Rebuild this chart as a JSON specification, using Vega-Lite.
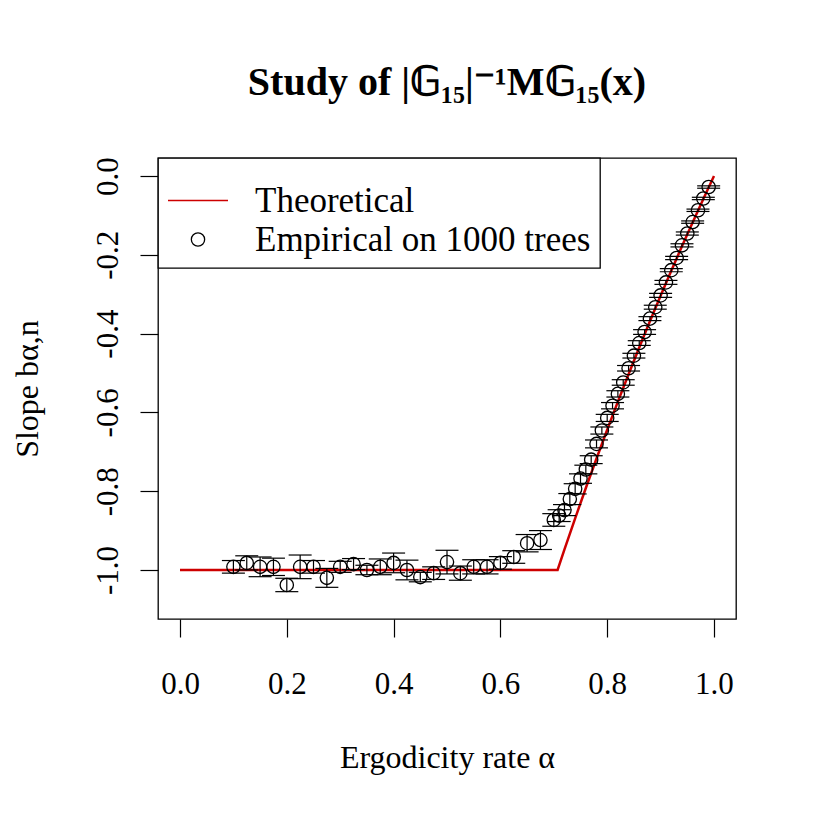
{
  "$schema": "https://vega.github.io/schema/vega-lite/v6.json",
  "width": 578,
  "height": 461,
  "autosize": {"type": "none"},
  "padding": {"left": 158, "top": 158, "right": 81, "bottom": 198},
  "background": "white",
  "config": {
    "view": {"stroke": "black", "strokeWidth": 1.3},
    "font": "Liberation Serif",
    "legend": {
      "orient": "none", "legendX": 0, "legendY": 0,
      "fillColor": "white", "strokeColor": "black", "strokeWidth": 1.3,
      "padding": 9, "labelFont": "Liberation Serif", "labelFontSize": 35,
      "labelColor": "black", "labelOffset": 26, "rowPadding": 0, "clipHeight": 39,
      "titleFontSize": 12, "titlePadding": 2, "titleColor": "white",
      "symbolStrokeWidth": 1.3, "labelLimit": 600
    }
  },
  "title": {
    "text": "Study of |𝔾₁₅|⁻¹M𝔾₁₅(x)",
    "font": "Liberation Serif", "fontSize": 40, "fontWeight": "bold",
    "frame": "group", "anchor": "middle", "baseline": "alphabetic",
    "offset": 22, "color": "black"
  },
  "datasets": {
    "theory": [
      {"a": 0, "b": -1, "series": "Theoretical"},
      {"a": 0.7071, "b": -1, "series": "Theoretical"},
      {"a": 0.72, "b": -0.9479, "series": "Theoretical"},
      {"a": 0.74, "b": -0.8688, "series": "Theoretical"},
      {"a": 0.76, "b": -0.7919, "series": "Theoretical"},
      {"a": 0.78, "b": -0.7169, "series": "Theoretical"},
      {"a": 0.80, "b": -0.6439, "series": "Theoretical"},
      {"a": 0.82, "b": -0.5726, "series": "Theoretical"},
      {"a": 0.84, "b": -0.5031, "series": "Theoretical"},
      {"a": 0.86, "b": -0.4352, "series": "Theoretical"},
      {"a": 0.88, "b": -0.3689, "series": "Theoretical"},
      {"a": 0.90, "b": -0.3040, "series": "Theoretical"},
      {"a": 0.92, "b": -0.2406, "series": "Theoretical"},
      {"a": 0.94, "b": -0.1785, "series": "Theoretical"},
      {"a": 0.96, "b": -0.1178, "series": "Theoretical"},
      {"a": 0.98, "b": -0.0583, "series": "Theoretical"},
      {"a": 1.00, "b": 0, "series": "Theoretical"}
    ],
    "emp": [
      {"a": 0.1, "b": -0.992, "lo": -1.008, "hi": -0.976, "series": "Empirical on 1000 trees"},
      {"a": 0.125, "b": -0.982, "lo": -1.000, "hi": -0.964, "series": "Empirical on 1000 trees"},
      {"a": 0.15, "b": -0.992, "lo": -1.017, "hi": -0.967, "series": "Empirical on 1000 trees"},
      {"a": 0.175, "b": -0.992, "lo": -1.014, "hi": -0.970, "series": "Empirical on 1000 trees"},
      {"a": 0.2, "b": -1.038, "lo": -1.055, "hi": -1.021, "series": "Empirical on 1000 trees"},
      {"a": 0.225, "b": -0.992, "lo": -1.022, "hi": -0.962, "series": "Empirical on 1000 trees"},
      {"a": 0.25, "b": -0.992, "lo": -1.008, "hi": -0.976, "series": "Empirical on 1000 trees"},
      {"a": 0.275, "b": -1.020, "lo": -1.044, "hi": -0.996, "series": "Empirical on 1000 trees"},
      {"a": 0.3, "b": -0.992, "lo": -1.006, "hi": -0.978, "series": "Empirical on 1000 trees"},
      {"a": 0.325, "b": -0.985, "lo": -0.999, "hi": -0.971, "series": "Empirical on 1000 trees"},
      {"a": 0.35, "b": -1.000, "lo": -1.012, "hi": -0.988, "series": "Empirical on 1000 trees"},
      {"a": 0.375, "b": -0.992, "lo": -1.012, "hi": -0.972, "series": "Empirical on 1000 trees"},
      {"a": 0.4, "b": -0.982, "lo": -1.007, "hi": -0.957, "series": "Empirical on 1000 trees"},
      {"a": 0.425, "b": -1.000, "lo": -1.025, "hi": -0.975, "series": "Empirical on 1000 trees"},
      {"a": 0.45, "b": -1.018, "lo": -1.030, "hi": -1.006, "series": "Empirical on 1000 trees"},
      {"a": 0.475, "b": -1.008, "lo": -1.024, "hi": -0.992, "series": "Empirical on 1000 trees"},
      {"a": 0.5, "b": -0.980, "lo": -1.010, "hi": -0.950, "series": "Empirical on 1000 trees"},
      {"a": 0.525, "b": -1.008, "lo": -1.026, "hi": -0.990, "series": "Empirical on 1000 trees"},
      {"a": 0.55, "b": -0.992, "lo": -1.010, "hi": -0.974, "series": "Empirical on 1000 trees"},
      {"a": 0.575, "b": -0.992, "lo": -1.010, "hi": -0.974, "series": "Empirical on 1000 trees"},
      {"a": 0.6, "b": -0.982, "lo": -0.998, "hi": -0.966, "series": "Empirical on 1000 trees"},
      {"a": 0.625, "b": -0.967, "lo": -0.983, "hi": -0.951, "series": "Empirical on 1000 trees"},
      {"a": 0.65, "b": -0.932, "lo": -0.954, "hi": -0.910, "series": "Empirical on 1000 trees"},
      {"a": 0.675, "b": -0.924, "lo": -0.948, "hi": -0.900, "series": "Empirical on 1000 trees"},
      {"a": 0.70, "b": -0.873, "lo": -0.889, "hi": -0.857, "series": "Empirical on 1000 trees"},
      {"a": 0.71, "b": -0.862, "lo": -0.877, "hi": -0.847, "series": "Empirical on 1000 trees"},
      {"a": 0.72, "b": -0.848, "lo": -0.862, "hi": -0.834, "series": "Empirical on 1000 trees"},
      {"a": 0.73, "b": -0.820, "lo": -0.834, "hi": -0.806, "series": "Empirical on 1000 trees"},
      {"a": 0.74, "b": -0.794, "lo": -0.807, "hi": -0.781, "series": "Empirical on 1000 trees"},
      {"a": 0.75, "b": -0.768, "lo": -0.780, "hi": -0.756, "series": "Empirical on 1000 trees"},
      {"a": 0.76, "b": -0.745, "lo": -0.756, "hi": -0.734, "series": "Empirical on 1000 trees"},
      {"a": 0.77, "b": -0.720, "lo": -0.730, "hi": -0.710, "series": "Empirical on 1000 trees"},
      {"a": 0.78, "b": -0.680, "lo": -0.690, "hi": -0.670, "series": "Empirical on 1000 trees"},
      {"a": 0.79, "b": -0.646, "lo": -0.655, "hi": -0.637, "series": "Empirical on 1000 trees"},
      {"a": 0.80, "b": -0.614, "lo": -0.623, "hi": -0.605, "series": "Empirical on 1000 trees"},
      {"a": 0.81, "b": -0.583, "lo": -0.591, "hi": -0.575, "series": "Empirical on 1000 trees"},
      {"a": 0.82, "b": -0.553, "lo": -0.561, "hi": -0.545, "series": "Empirical on 1000 trees"},
      {"a": 0.83, "b": -0.524, "lo": -0.531, "hi": -0.517, "series": "Empirical on 1000 trees"},
      {"a": 0.84, "b": -0.488, "lo": -0.495, "hi": -0.481, "series": "Empirical on 1000 trees"},
      {"a": 0.85, "b": -0.456, "lo": -0.462, "hi": -0.450, "series": "Empirical on 1000 trees"},
      {"a": 0.86, "b": -0.424, "lo": -0.430, "hi": -0.418, "series": "Empirical on 1000 trees"},
      {"a": 0.87, "b": -0.396, "lo": -0.402, "hi": -0.390, "series": "Empirical on 1000 trees"},
      {"a": 0.88, "b": -0.362, "lo": -0.367, "hi": -0.357, "series": "Empirical on 1000 trees"},
      {"a": 0.89, "b": -0.333, "lo": -0.338, "hi": -0.328, "series": "Empirical on 1000 trees"},
      {"a": 0.90, "b": -0.303, "lo": -0.308, "hi": -0.298, "series": "Empirical on 1000 trees"},
      {"a": 0.91, "b": -0.270, "lo": -0.275, "hi": -0.265, "series": "Empirical on 1000 trees"},
      {"a": 0.92, "b": -0.239, "lo": -0.243, "hi": -0.235, "series": "Empirical on 1000 trees"},
      {"a": 0.93, "b": -0.208, "lo": -0.212, "hi": -0.204, "series": "Empirical on 1000 trees"},
      {"a": 0.94, "b": -0.176, "lo": -0.180, "hi": -0.172, "series": "Empirical on 1000 trees"},
      {"a": 0.95, "b": -0.146, "lo": -0.150, "hi": -0.142, "series": "Empirical on 1000 trees"},
      {"a": 0.96, "b": -0.117, "lo": -0.120, "hi": -0.114, "series": "Empirical on 1000 trees"},
      {"a": 0.97, "b": -0.087, "lo": -0.090, "hi": -0.084, "series": "Empirical on 1000 trees"},
      {"a": 0.98, "b": -0.057, "lo": -0.060, "hi": -0.054, "series": "Empirical on 1000 trees"},
      {"a": 0.99, "b": -0.028, "lo": -0.031, "hi": -0.025, "series": "Empirical on 1000 trees"}
    ]
  },
  "encoding": {
    "x": {
      "field": "a", "type": "quantitative",
      "scale": {"domain": [-0.0412, 1.0412], "nice": false, "zero": false},
      "axis": {
        "values": [0, 0.2, 0.4, 0.6, 0.8, 1.0], "format": ".1f",
        "domain": false, "grid": false, "tickSize": 18, "tickColor": "black", "tickWidth": 1.2,
        "labelFont": "Liberation Serif", "labelFontSize": 31, "labelColor": "black",
        "labelPadding": 56, "labelBaseline": "alphabetic", "labelFlush": false, "labelOverlap": false,
        "title": "Ergodicity rate α", "titleFont": "Liberation Serif", "titleFontSize": 32,
        "titleFontWeight": "normal", "titleColor": "black", "titleY": 148, "titleBaseline": "alphabetic"
      }
    },
    "y": {
      "field": "b", "type": "quantitative",
      "scale": {"domain": [-1.1244, 0.0457], "nice": false, "zero": false},
      "axis": {
        "values": [-1.0, -0.8, -0.6, -0.4, -0.2, 0.0],
        "labelExpr": "replace(format(datum.value, '.1f'), '−', '-')",
        "domain": false, "grid": false, "tickSize": 18, "tickColor": "black", "tickWidth": 1.2,
        "labelFont": "Liberation Serif", "labelFontSize": 31, "labelColor": "black",
        "labelAngle": 270, "labelAlign": "center", "labelBaseline": "alphabetic",
        "labelPadding": 23, "labelFlush": false, "labelOverlap": false,
        "title": "Slope bα,n", "titleFont": "Liberation Serif", "titleFontSize": 32,
        "titleFontWeight": "normal", "titleColor": "black", "titleAngle": 270,
        "titleX": -121, "titleY": 230.5, "titleBaseline": "alphabetic", "titleAlign": "center"
      }
    }
  },
  "layer": [
    {
      "data": {"name": "theory"},
      "mark": {"type": "line", "strokeWidth": 2.5},
      "encoding": {
        "color": {
          "field": "series", "type": "nominal",
          "scale": {"domain": ["Theoretical", "Empirical on 1000 trees"], "range": ["#cd0000", "black"]},
          "legend": {"orient": "none", "legendX": 0, "legendY": 0, "title": "."}
        }
      }
    },
    {
      "data": {"name": "emp"},
      "mark": {"type": "rule", "color": "black", "strokeWidth": 1.2},
      "encoding": {"y": {"field": "lo", "type": "quantitative"}, "y2": {"field": "hi"}}
    },
    {
      "data": {"name": "emp"},
      "mark": {"type": "tick", "orient": "horizontal", "size": 23, "thickness": 1.2, "color": "black", "opacity": 1},
      "encoding": {"y": {"field": "lo", "type": "quantitative"}}
    },
    {
      "data": {"name": "emp"},
      "mark": {"type": "tick", "orient": "horizontal", "size": 23, "thickness": 1.2, "color": "black", "opacity": 1},
      "encoding": {"y": {"field": "hi", "type": "quantitative"}}
    },
    {
      "data": {"name": "emp"},
      "mark": {"type": "point", "filled": false, "strokeWidth": 1.3, "opacity": 1},
      "encoding": {
        "color": {"field": "series", "type": "nominal", "legend": {"title": "."}},
        "shape": {
          "field": "series", "type": "nominal",
          "scale": {"domain": ["Theoretical", "Empirical on 1000 trees"], "range": ["stroke", "circle"]},
          "legend": {"title": "."}
        },
        "size": {
          "field": "series", "type": "nominal",
          "scale": {"domain": ["Theoretical", "Empirical on 1000 trees"], "range": [3600, 177]},
          "legend": {"title": "."}
        }
      }
    }
  ]
}
